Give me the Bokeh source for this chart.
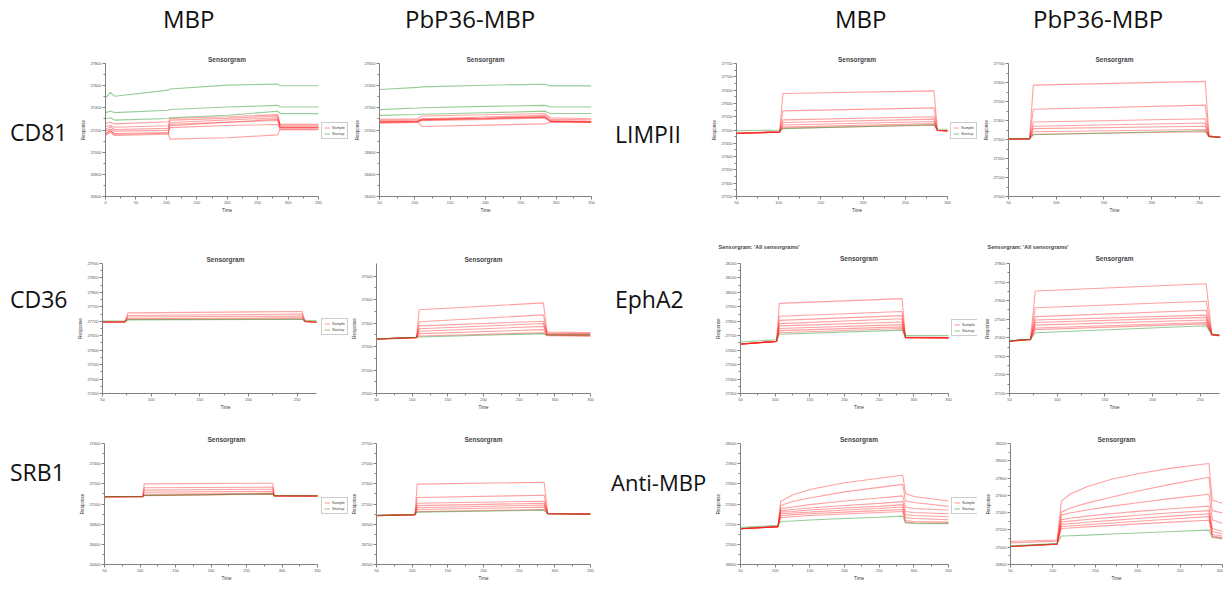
from bokeh.plotting import figure
from bokeh.models import FixedTicker, Legend, LegendItem, Title, Div, ColumnDataSource
from bokeh.layouts import row, column
from bokeh.embed import file_html
from bokeh.resources import INLINE

# ---------------- text ----------------
HEADERS = ["MBP", "PbP36-MBP", "MBP", "PbP36-MBP"]
ROW_LABELS_LEFT = ["CD81", "CD36", "SRB1"]
ROW_LABELS_RIGHT = ["LIMPII", "EphA2", "Anti-MBP"]
LEGEND_LABELS = ["Sample", "Startup"]
PANEL_TITLE = "Sensorgram"
EXTRA_TITLE = "Sensorgram: 'All sensorgrams'"
X_LABEL = "Time"
Y_LABEL = "Response"

# ---------------- data (time in s, response in RU) ----------------
# CD81 / MBP
CD81_MBP_X_TICKS = [0, 50, 100, 150, 200, 250, 300, 350]
CD81_MBP_Y_TICKS = [26600, 26800, 27000, 27200, 27400, 27600, 27800]
CD81_MBP_T = [0, 8, 15, 103, 106, 200, 283, 287, 350]
CD81_MBP_SAMPLE = [
    [27200, 27230, 27205, 27215, 27304, 27320, 27339, 27239, 27239],
    [27171, 27190, 27168, 27177, 27118, 27130, 27156, 27209, 27209],
    [27259, 27270, 27255, 27274, 27289, 27305, 27327, 27251, 27251],
    [27230, 27240, 27225, 27239, 27268, 27290, 27310, 27230, 27230],
    [27156, 27200, 27160, 27171, 27239, 27270, 27298, 27221, 27221],
    [27186, 27210, 27190, 27197, 27251, 27270, 27286, 27221, 27221],
    [27150, 27180, 27150, 27162, 27221, 27240, 27250, 27203, 27203],
]
CD81_MBP_STARTUP = [
    [27487, 27540, 27505, 27560, 27570, 27605, 27614, 27599, 27599],
    [27357, 27370, 27357, 27378, 27385, 27407, 27422, 27407, 27407],
    [27304, 27310, 27289, 27304, 27310, 27333, 27369, 27348, 27348],
]

# CD81 / PbP36-MBP
CD81_PBP_X_TICKS = [50, 100, 150, 200, 250, 300, 350]
CD81_PBP_Y_TICKS = [26400, 26600, 26800, 27000, 27200, 27400, 27600]
CD81_PBP_T = [50, 104, 110, 200, 284, 292, 350]
CD81_PBP_SAMPLE = [
    [27073, 27079, 27096, 27108, 27120, 27082, 27076],
    [27070, 27076, 27090, 27102, 27114, 27079, 27073],
    [27096, 27102, 27126, 27137, 27149, 27111, 27102],
    [27067, 27073, 27032, 27044, 27055, 27073, 27067],
    [27085, 27091, 27102, 27117, 27132, 27096, 27091],
    [27061, 27067, 27085, 27096, 27108, 27073, 27067],
    [27075, 27080, 27094, 27106, 27118, 27080, 27075],
]
CD81_PBP_STARTUP = [
    [27366, 27385, 27389, 27404, 27413, 27398, 27398],
    [27184, 27199, 27201, 27213, 27222, 27208, 27208],
    [27132, 27140, 27142, 27155, 27170, 27149, 27149],
]

# LIMPII / MBP
LIMPII_MBP_X_TICKS = [50, 100, 150, 200, 250, 300]
LIMPII_MBP_Y_TICKS = [27250, 27300, 27350, 27400, 27450, 27500, 27550, 27600, 27650, 27700, 27750]
LIMPII_MBP_T = [50, 101, 105, 284, 288, 300]
LIMPII_MBP_SAMPLE = [
    [27487, 27492, 27637, 27647, 27498, 27496],
    [27487, 27492, 27572, 27583, 27498, 27496],
    [27489, 27493, 27538, 27550, 27499, 27497],
    [27487, 27492, 27528, 27541, 27498, 27496],
    [27489, 27493, 27519, 27532, 27499, 27497],
    [27487, 27492, 27511, 27524, 27498, 27496],
    [27488, 27492, 27507, 27518, 27499, 27497],
]
LIMPII_MBP_STARTUP = [
    [27497, 27500, 27505, 27520, 27504, 27503],
]

# LIMPII / PbP36-MBP
LIMPII_PBP_X_TICKS = [50, 100, 150, 200, 250]
LIMPII_PBP_Y_TICKS = [27000, 27100, 27200, 27300, 27400, 27500, 27600, 27700]
LIMPII_PBP_T = [50, 72, 76, 256, 260, 272]
LIMPII_PBP_SAMPLE = [
    [27303, 27303, 27586, 27606, 27320, 27312],
    [27303, 27303, 27459, 27481, 27318, 27312],
    [27303, 27304, 27392, 27409, 27318, 27312],
    [27303, 27303, 27370, 27387, 27316, 27311],
    [27303, 27304, 27357, 27370, 27316, 27311],
    [27303, 27303, 27341, 27353, 27315, 27311],
    [27303, 27304, 27328, 27341, 27315, 27311],
]
LIMPII_PBP_STARTUP = [
    [27304, 27304, 27325, 27346, 27316, 27312],
]

# CD36 / MBP
CD36_MBP_X_TICKS = [50, 100, 150, 200, 250]
CD36_MBP_Y_TICKS = [27450, 27500, 27550, 27600, 27650, 27700, 27750, 27800, 27850, 27900]
CD36_MBP_T = [50, 73, 76, 255, 258, 270]
CD36_MBP_SAMPLE = [
    [27698, 27698, 27729, 27734, 27700, 27697],
    [27698, 27698, 27720, 27725, 27700, 27697],
    [27698, 27698, 27715, 27718, 27699, 27697],
    [27697, 27698, 27709, 27712, 27699, 27697],
    [27697, 27697, 27706, 27708, 27698, 27696],
]
CD36_MBP_STARTUP = [
    [27701, 27702, 27705, 27707, 27703, 27702],
]

# CD36 / PbP36-MBP
CD36_PBP_X_TICKS = [50, 100, 150, 200, 250, 300, 350]
CD36_PBP_Y_TICKS = [27000, 27100, 27200, 27300, 27400, 27500]
CD36_PBP_T = [50, 106, 110, 284, 289, 350]
CD36_PBP_SAMPLE = [
    [27232, 27239, 27357, 27386, 27262, 27260],
    [27231, 27238, 27306, 27335, 27258, 27256],
    [27232, 27239, 27288, 27308, 27255, 27253],
    [27231, 27238, 27276, 27298, 27252, 27250],
    [27232, 27239, 27265, 27286, 27250, 27248],
    [27231, 27238, 27255, 27272, 27248, 27246],
    [27232, 27239, 27245, 27259, 27246, 27244],
]
CD36_PBP_STARTUP = [
    [27233, 27240, 27241, 27255, 27250, 27250],
]

# EphA2 / MBP
EPHA2_MBP_X_TICKS = [50, 100, 150, 200, 250, 300, 350]
EPHA2_MBP_Y_TICKS = [27300, 27400, 27500, 27600, 27700, 27800, 27900, 28000, 28100, 28200]
EPHA2_MBP_T = [50, 102, 106, 283, 288, 350]
EPHA2_MBP_SAMPLE = [
    [27643, 27661, 27924, 27957, 27690, 27688],
    [27641, 27660, 27835, 27868, 27689, 27687],
    [27643, 27661, 27806, 27839, 27688, 27686],
    [27642, 27660, 27784, 27817, 27688, 27686],
    [27643, 27661, 27768, 27795, 27687, 27685],
    [27642, 27660, 27750, 27777, 27687, 27685],
    [27643, 27661, 27735, 27761, 27686, 27684],
    [27642, 27660, 27721, 27750, 27686, 27684],
]
EPHA2_MBP_STARTUP = [
    [27657, 27672, 27710, 27739, 27701, 27701],
]

# EphA2 / PbP36-MBP
EPHA2_PBP_X_TICKS = [50, 100, 150, 200, 250]
EPHA2_PBP_Y_TICKS = [27100, 27200, 27300, 27400, 27500, 27600, 27700, 27800]
EPHA2_PBP_T = [50, 72, 77, 256, 262, 270]
EPHA2_PBP_SAMPLE = [
    [27383, 27392, 27652, 27691, 27420, 27414],
    [27381, 27390, 27562, 27597, 27418, 27413],
    [27383, 27392, 27514, 27548, 27418, 27413],
    [27381, 27390, 27496, 27522, 27417, 27412],
    [27383, 27392, 27482, 27510, 27417, 27412],
    [27381, 27390, 27468, 27496, 27416, 27411],
    [27383, 27392, 27453, 27482, 27416, 27411],
    [27382, 27391, 27444, 27475, 27415, 27410],
]
EPHA2_PBP_STARTUP = [
    [27385, 27393, 27427, 27465, 27420, 27416],
]

# SRB1 / MBP
SRB1_MBP_X_TICKS = [50, 100, 150, 200, 250, 300, 350]
SRB1_MBP_Y_TICKS = [26400, 26600, 26800, 27000, 27200, 27400, 27600]
SRB1_MBP_T = [50, 104, 106, 287, 289, 350]
SRB1_MBP_SAMPLE = [
    [27073, 27074, 27200, 27206, 27082, 27081],
    [27072, 27073, 27161, 27167, 27081, 27080],
    [27073, 27074, 27138, 27147, 27082, 27081],
    [27072, 27073, 27117, 27126, 27081, 27080],
    [27073, 27074, 27096, 27108, 27082, 27081],
    [27072, 27073, 27085, 27102, 27081, 27080],
    [27071, 27072, 27083, 27098, 27080, 27079],
]
SRB1_MBP_STARTUP = [
    [27074, 27075, 27086, 27100, 27082, 27082],
]

# SRB1 / PbP36-MBP
SRB1_PBP_X_TICKS = [50, 100, 150, 200, 250, 300, 350]
SRB1_PBP_Y_TICKS = [26500, 26700, 26900, 27100, 27300, 27500, 27700]
SRB1_PBP_T = [50, 104, 107, 285, 290, 350]
SRB1_PBP_SAMPLE = [
    [26986, 26995, 27297, 27315, 27006, 27002],
    [26985, 26994, 27164, 27187, 27005, 27001],
    [26986, 26995, 27107, 27128, 27005, 27001],
    [26985, 26994, 27084, 27107, 27004, 27000],
    [26986, 26995, 27063, 27090, 27004, 27000],
    [26985, 26994, 27045, 27069, 27003, 27000],
    [26986, 26995, 27024, 27045, 27003, 27000],
]
SRB1_PBP_STARTUP = [
    [26987, 26996, 27019, 27039, 27004, 27001],
]

# Anti-MBP / MBP
ANTI_MBP_X_TICKS = [50, 100, 150, 200, 250, 300, 350]
ANTI_MBP_Y_TICKS = [26800, 27000, 27200, 27400, 27600, 27800, 28000]
ANTI_MBP_T = [50, 104, 108, 125, 150, 200, 250, 284, 288, 300, 350]
ANTI_MBP_SAMPLE = [
    [27154, 27175, 27424, 27490, 27544, 27610, 27655, 27685, 27505, 27475, 27430],
    [27155, 27176, 27385, 27424, 27460, 27520, 27565, 27595, 27430, 27415, 27376],
    [27154, 27175, 27355, 27370, 27394, 27430, 27460, 27481, 27370, 27355, 27340],
    [27155, 27176, 27334, 27346, 27361, 27385, 27406, 27424, 27325, 27316, 27304],
    [27154, 27175, 27319, 27325, 27340, 27361, 27376, 27394, 27295, 27286, 27274],
    [27155, 27176, 27304, 27310, 27319, 27340, 27355, 27370, 27265, 27256, 27244],
    [27154, 27175, 27286, 27295, 27304, 27319, 27334, 27346, 27235, 27226, 27220],
    [27155, 27176, 27265, 27274, 27286, 27301, 27316, 27325, 27220, 27214, 27211],
]
ANTI_MBP_STARTUP = [
    [27166, 27190, 27226, 27232, 27241, 27256, 27268, 27280, 27211, 27208, 27205],
]

# Anti-MBP / PbP36-MBP
ANTI_PBP_X_TICKS = [50, 100, 150, 200, 250, 300]
ANTI_PBP_Y_TICKS = [26800, 27000, 27200, 27400, 27600, 27800, 28000, 28200]
ANTI_PBP_T = [50, 105, 110, 120, 140, 170, 200, 240, 284, 288, 300]
ANTI_PBP_SAMPLE = [
    [27067, 27084, 27533, 27613, 27700, 27790, 27850, 27915, 27969, 27544, 27509],
    [27050, 27071, 27406, 27450, 27510, 27580, 27650, 27730, 27810, 27423, 27395],
    [27008, 27036, 27371, 27395, 27430, 27475, 27515, 27565, 27613, 27319, 27274],
    [27008, 27036, 27319, 27335, 27360, 27390, 27415, 27445, 27475, 27216, 27181],
    [27010, 27038, 27292, 27302, 27320, 27345, 27370, 27398, 27423, 27181, 27153],
    [27008, 27036, 27264, 27272, 27288, 27310, 27333, 27360, 27388, 27147, 27129],
    [27010, 27038, 27240, 27246, 27260, 27280, 27300, 27326, 27354, 27129, 27112],
    [27008, 27036, 27216, 27222, 27235, 27253, 27270, 27290, 27312, 27119, 27105],
]
ANTI_PBP_STARTUP = [
    [27015, 27043, 27129, 27133, 27140, 27153, 27164, 27181, 27198, 27112, 27095],
]

# ---------------- styling ----------------
RED = "#ff1f1f"
GREEN = "#2f9a2f"
AX = "#808080"
TXT_FONT = "Liberation Sans"
BIG_FONT = "Open Sans"


def make_panel(w, h, bl, br, bt, bb, x_end, x_ticks, y_ticks, y_top, t, sample, startup,
               legend_at=None, extra_title=False):
    x0 = x_ticks[0]
    x_hi = x_end
    br_eff = br
    if legend_at is not None:
        # widen the frame to the right so the legend can sit beyond the axis end
        axis_px = w - bl - br
        br_eff = 1
        frame_px = w - bl - br_eff
        x_hi = x0 + (x_end - x0) * frame_px / axis_px
    p = figure(width=w, height=h, output_backend="svg", toolbar_location=None,
               x_range=(x0, x_hi), y_range=(y_ticks[0], y_top),
               min_border_left=bl, min_border_right=br_eff, min_border_top=bt, min_border_bottom=bb,
               background_fill_color="white", border_fill_color=None, outline_line_color=None)
    if extra_title:
        p.title.text = EXTRA_TITLE
        p.title.align = "left"
        p.title.offset = -22
        p.title.text_font = TXT_FONT
        p.title.text_font_size = "5.5px"
        p.title.text_font_style = "bold"
        p.title.standoff = 3
        p.add_layout(Title(text=PANEL_TITLE, align="center", standoff=3,
                           text_font=TXT_FONT, text_font_size="6.5px", text_font_style="bold"), "above")
    else:
        p.title.text = PANEL_TITLE
        p.title.align = "center"
        p.title.text_font = TXT_FONT
        p.title.text_font_size = "6.5px"
        p.title.text_font_style = "bold"
        p.title.standoff = 2
    p.xgrid.visible = False
    p.ygrid.visible = False
    p.xaxis.ticker = FixedTicker(ticks=x_ticks,
                                 minor_ticks=[(a + b) / 2 for a, b in zip(x_ticks, x_ticks[1:])])
    p.yaxis.ticker = FixedTicker(ticks=y_ticks,
                                 minor_ticks=[(a + b) / 2 for a, b in zip(y_ticks, y_ticks[1:])])
    p.xaxis.bounds = (x0, x_end)
    for ax in (p.xaxis[0], p.yaxis[0]):
        ax.axis_line_color = AX
        ax.major_tick_line_color = AX
        ax.minor_tick_line_color = AX
        ax.major_tick_in = 0
        ax.major_tick_out = 3
        ax.minor_tick_in = 0
        ax.minor_tick_out = 2
        ax.major_label_text_font = TXT_FONT
        ax.major_label_text_font_size = "4px"
        ax.major_label_text_color = "#555555"
        ax.major_label_standoff = 1
        ax.axis_label_text_font = TXT_FONT
        ax.axis_label_text_font_size = "4.5px"
        ax.axis_label_text_font_style = "normal"
        ax.axis_label_text_color = "#333333"
        ax.axis_label_standoff = 1
    p.xaxis.axis_label = X_LABEL
    p.yaxis.axis_label = Y_LABEL

    rs = ColumnDataSource(dict(xs=[t] * len(sample), ys=sample))
    rr = p.multi_line("xs", "ys", source=rs, line_color=RED, line_alpha=0.42, line_width=1.1)
    gs = ColumnDataSource(dict(xs=[t] * len(startup), ys=startup))
    gr = p.multi_line("xs", "ys", source=gs, line_color=GREEN, line_alpha=0.5, line_width=1.1)

    if legend_at is not None:
        axis_px = w - bl - br
        lg = Legend(items=[LegendItem(label=LEGEND_LABELS[0], renderers=[rr]),
                           LegendItem(label=LEGEND_LABELS[1], renderers=[gr])],
                    location=(axis_px + legend_at[0], legend_at[1]), margin=0, padding=2, spacing=1,
                    glyph_width=6, glyph_height=5, label_height=5, label_width=10, label_standoff=2,
                    label_text_font=TXT_FONT, label_text_font_size="3.8px",
                    border_line_color="#999999", background_fill_color="white")
        p.add_layout(lg, "center")
    return p


def label_div(text, width, height, left, top, size):
    html = ('<div style="position:relative;width:%dpx;height:%dpx;overflow:visible;">'
            '<span style="position:absolute;left:%dpx;top:%dpx;font-family:\'%s\';'
            'font-size:%dpx;line-height:%dpx;color:#111111;white-space:nowrap;">%s</span></div>'
            % (width, height, left, top, BIG_FONT, size, size, text))
    return Div(text=html, width=width, height=height, margin=0)


# header (page has no outer margin here, so offsets include the 8px gutter)
head_html = '<div style="position:relative;width:1223px;height:48px;">'
for txt, left in zip(HEADERS, [163, 405, 835, 1033]):
    head_html += ('<span style="position:absolute;left:%dpx;top:7px;font-family:\'%s\';'
                  'font-size:24px;line-height:24px;color:#111111;white-space:nowrap;">%s</span>'
                  % (left, BIG_FONT, txt))
head_html += '</div>'
header = Div(text=head_html, width=1223, height=48, margin=0)

# row 1
pA = make_panel(274, 167, 30, 31, 15, 16, 350, CD81_MBP_X_TICKS, CD81_MBP_Y_TICKS, CD81_MBP_Y_TICKS[-1],
                CD81_MBP_T, CD81_MBP_SAMPLE, CD81_MBP_STARTUP, legend_at=(3, 57))
pB = make_panel(256, 167, 30, 14, 15, 16, 350, CD81_PBP_X_TICKS, CD81_PBP_Y_TICKS, CD81_PBP_Y_TICKS[-1],
                CD81_PBP_T, CD81_PBP_SAMPLE, CD81_PBP_STARTUP)
pC = make_panel(272, 167, 30, 31, 14, 16, 300, LIMPII_MBP_X_TICKS, LIMPII_MBP_Y_TICKS, LIMPII_MBP_Y_TICKS[-1],
                LIMPII_MBP_T, LIMPII_MBP_SAMPLE, LIMPII_MBP_STARTUP, legend_at=(3, 57))
pD = make_panel(245, 167, 30, 3, 13, 16, 272, LIMPII_PBP_X_TICKS, LIMPII_PBP_Y_TICKS, LIMPII_PBP_Y_TICKS[-1],
                LIMPII_PBP_T, LIMPII_PBP_SAMPLE, LIMPII_PBP_STARTUP)
row1 = row(label_div(ROW_LABELS_LEFT[0], 75, 167, 10, 73, 23), pA, pB,
           label_div(ROW_LABELS_RIGHT[0], 101, 167, 10, 75, 23), pC, pD)

# row 2
pE = make_panel(274, 200, 26, 33, 40, 22, 270, CD36_MBP_X_TICKS, CD36_MBP_Y_TICKS, CD36_MBP_Y_TICKS[-1],
                CD36_MBP_T, CD36_MBP_SAMPLE, CD36_MBP_STARTUP, legend_at=(4, 58))
pF = make_panel(256, 200, 27, 15, 40, 22, 350, CD36_PBP_X_TICKS, CD36_PBP_Y_TICKS, 27554,
                CD36_PBP_T, CD36_PBP_SAMPLE, CD36_PBP_STARTUP)
pG = make_panel(272, 200, 34, 30, 48, 18, 350, EPHA2_MBP_X_TICKS, EPHA2_MBP_Y_TICKS, EPHA2_MBP_Y_TICKS[-1],
                EPHA2_MBP_T, EPHA2_MBP_SAMPLE, EPHA2_MBP_STARTUP, legend_at=(3, 57), extra_title=True)
pH = make_panel(245, 200, 31, 4, 47, 19, 270, EPHA2_PBP_X_TICKS, EPHA2_PBP_Y_TICKS, EPHA2_PBP_Y_TICKS[-1],
                EPHA2_PBP_T, EPHA2_PBP_SAMPLE, EPHA2_PBP_STARTUP, extra_title=True)
row2 = row(label_div(ROW_LABELS_LEFT[1], 75, 200, 10, 73, 23), pE, pF,
           label_div(ROW_LABELS_RIGHT[1], 101, 200, 10, 73, 23), pG, pH)

# row 3
pI = make_panel(274, 168, 29, 32, 26, 14, 350, SRB1_MBP_X_TICKS, SRB1_MBP_Y_TICKS, SRB1_MBP_Y_TICKS[-1],
                SRB1_MBP_T, SRB1_MBP_SAMPLE, SRB1_MBP_STARTUP, legend_at=(4, 50))
pJ = make_panel(256, 168, 27, 15, 26, 14, 350, SRB1_PBP_X_TICKS, SRB1_PBP_Y_TICKS, SRB1_PBP_Y_TICKS[-1],
                SRB1_PBP_T, SRB1_PBP_SAMPLE, SRB1_PBP_STARTUP)
pK = make_panel(272, 168, 34, 30, 28, 14, 350, ANTI_MBP_X_TICKS, ANTI_MBP_Y_TICKS, ANTI_MBP_Y_TICKS[-1],
                ANTI_MBP_T, ANTI_MBP_SAMPLE, ANTI_MBP_STARTUP, legend_at=(3, 50))
pL = make_panel(245, 168, 32, 1, 27, 14, 300, ANTI_PBP_X_TICKS, ANTI_PBP_Y_TICKS, ANTI_PBP_Y_TICKS[-1],
                ANTI_PBP_T, ANTI_PBP_SAMPLE, ANTI_PBP_STARTUP)
row3 = row(label_div(ROW_LABELS_LEFT[2], 75, 168, 10, 46, 23), pI, pJ,
           label_div(ROW_LABELS_RIGHT[2], 101, 168, 6, 56, 22), pK, pL)

layout = column(header, row1, row2, row3)

open("out.html", "w").write(file_html(layout, INLINE))
